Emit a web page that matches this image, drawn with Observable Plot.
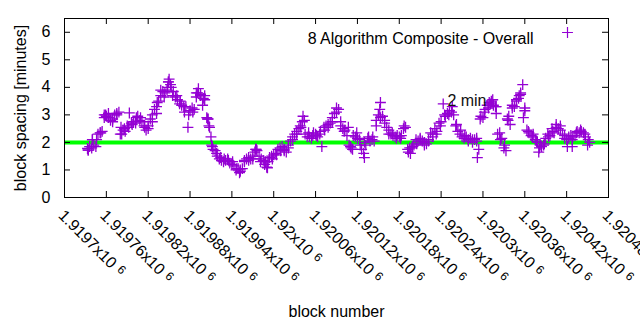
<!DOCTYPE html>
<html>
<head>
<meta charset="utf-8">
<script src="https://cdn.jsdelivr.net/npm/d3@7"></script>
<script src="https://cdn.jsdelivr.net/npm/@observablehq/plot@0.6"></script>
<style>
  html, body { margin: 0; padding: 0; background: #fff; }
  #chart { width: 640px; height: 330px; }
</style>
</head>
<body>
<div id="chart"></div>
<script>
// ---- data ----
const blocks = [
  1919733,1919736,1919739,1919742,1919745,1919748,1919751,1919754,1919757,1919760,
  1919763,1919766,1919769,1919772,1919775,1919778,1919781,1919784,1919787,1919790,
  1919793,1919796,1919799,1919802,1919805,1919808,1919811,1919814,1919817,1919820,
  1919823,1919826,1919829,1919832,1919835,1919838,1919841,1919844,1919847,1919850,
  1919853,1919856,1919859,1919862,1919865,1919868,1919871,1919874,1919877,1919880,
  1919883,1919886,1919889,1919892,1919895,1919898,1919901,1919904,1919907,1919910,
  1919913,1919916,1919919,1919922,1919925,1919928,1919931,1919934,1919937,1919940,
  1919943,1919946,1919949,1919952,1919955,1919958,1919961,1919964,1919967,1919970,
  1919973,1919976,1919979,1919982,1919985,1919988,1919991,1919994,1919997,1920000,
  1920003,1920006,1920009,1920012,1920015,1920018,1920021,1920024,1920027,1920030,
  1920033,1920036,1920039,1920042,1920045,1920048,1920051,1920054,1920057,1920060,
  1920063,1920066,1920069,1920072,1920075,1920078,1920081,1920084,1920087,1920090,
  1920093,1920096,1920099,1920102,1920105,1920108,1920111,1920114,1920117,1920120,
  1920123,1920126,1920129,1920132,1920135,1920138,1920141,1920144,1920147,1920150,
  1920153,1920156,1920159,1920162,1920165,1920168,1920171,1920174,1920177,1920180,
  1920183,1920186,1920189,1920192,1920195,1920198,1920201,1920204,1920207,1920210,
  1920213,1920216,1920219,1920222,1920225,1920228,1920231,1920234,1920237,1920240,
  1920243,1920246,1920249,1920252,1920255,1920258,1920261,1920264,1920267,1920270,
  1920273,1920276,1920279,1920282,1920285,1920288,1920291,1920294,1920297,1920300,
  1920303,1920306,1920309,1920312,1920315,1920318,1920321,1920324,1920327,1920330,
  1920333,1920336,1920339,1920342,1920345,1920348,1920351,1920354,1920357,1920360,
  1920363,1920366,1920369,1920372,1920375,1920378,1920381,1920384,1920387,1920390,
  1920393,1920396,1920399,1920402,1920405,1920408,1920411,1920414,1920417,1920420,
  1920423,1920426,1920429,1920432,1920435,1920438,1920441,1920444,1920447,1920450,
  1920453,
  // scattered extra points
  1919734,1919740,1919759,1919782,1919833,1919848,1919849,1919852,1919891,1919899,
  1919905,1919908,1919911,1919951,1919974,1919990,1920041,1920110,1920130,1920152,
  1920196,1920292,1920311,1920319,1920335,1920352,1920358,1920380,1920421,1920428
];
const spacing = [
  1.78,1.85,1.8,1.9,1.85,2.3,2.35,2.4,2.9,2.95,
  3.05,2.8,2.85,3.0,3.05,3.1,2.55,2.45,2.4,2.6,
  3.07,2.7,2.75,2.7,2.95,2.8,2.75,2.6,2.45,2.6,
  2.85,3.0,3.2,3.3,3.5,3.9,3.85,3.8,3.9,4.3,
  4.0,3.85,3.65,3.55,3.4,3.35,3.3,3.3,2.55,3.15,
  3.25,3.2,3.65,3.95,3.75,3.35,3.7,2.9,2.6,2.2,
  1.75,1.7,1.5,1.4,1.35,1.3,1.35,1.4,1.25,1.2,
  1.15,1.0,1.05,0.95,1.05,1.35,1.4,1.35,1.4,1.4,
  1.65,1.7,1.5,1.4,1.35,1.3,1.08,1.45,1.5,1.55,
  1.6,1.75,1.8,1.85,1.7,1.65,1.8,2.05,2.2,2.3,
  2.4,2.5,2.55,2.95,2.3,2.2,2.2,2.15,2.35,2.3,
  2.2,2.3,1.85,2.55,2.6,2.65,2.7,2.75,3.05,3.25,
  3.2,2.6,2.5,2.45,2.25,1.9,1.8,2.25,2.2,2.15,
  2.1,1.75,1.6,1.9,2.15,2.05,2.1,2.05,2.8,3.0,
  3.45,2.95,2.8,2.55,2.3,2.3,2.25,2.2,2.25,2.2,
  2.25,2.5,2.55,1.75,1.8,1.8,1.9,2.1,2.05,2.1,
  2.05,2.0,1.95,2.1,2.35,2.2,2.5,2.4,2.7,2.75,
  3.4,2.95,3.05,3.15,3.1,3.0,2.6,2.4,2.3,2.2,
  2.15,2.2,2.1,2.15,2.0,2.1,2.15,1.75,2.95,2.9,
  3.2,3.35,3.45,3.5,3.35,3.3,2.3,2.35,2.15,1.8,
  1.7,2.8,2.65,3.25,3.3,3.55,3.6,3.8,4.1,3.15,
  2.45,2.35,2.25,2.3,2.1,2.0,1.8,1.85,1.9,2.15,
  2.3,2.25,2.5,2.35,2.65,2.5,2.45,2.3,2.15,2.1,
  2.15,2.25,2.2,2.25,2.4,2.35,2.4,2.35,2.2,1.9,
  2.0,
  1.72,2.1,3.0,2.3,3.45,4.0,4.2,4.1,3.8,3.6,
  2.85,2.55,1.9,0.9,1.75,1.1,2.75,1.85,1.45,3.2,
  1.6,1.45,3.4,3.05,2.85,3.7,2.9,1.65,1.85,1.85
];
// second pass of readings through the thick parts of the cloud
const blocksB = [
  1919734,1919740,1919746,1919752,1919757,1919763,1919769,1919775,1919780,1919786,
  1919792,1919797,1919803,1919809,1919815,1919820,1919826,1919832,1919838,1919843,
  1919849,1919855,1919861,1919866,1919872,1919878,1919884,1919889,1919895,1919901,
  1919906,1919912,1919918,1919924,1919929,1919935,1919941,1919947,1919952,1919958,
  1919964,1919970,1919975,1919981,1919987,1919992,1919998,1920004,1920010,1920015,
  1920021,1920027,1920033,1920038,1920044,1920050,1920056,1920061,1920067,1920073,
  1920078,1920084,1920090,1920096,1920101,1920107,1920113,1920119,1920124,1920130,
  1920136,1920142,1920147,1920153,1920159,1920165,1920170,1920176,1920182,1920187,
  1920193,1920199,1920205,1920210,1920216,1920222,1920228,1920233,1920239,1920245,
  1920251,1920256,1920262,1920268,1920274,1920279,1920285,1920291,1920296,1920302,
  1920308,1920314,1920319,1920325,1920331,1920337,1920342,1920348,1920354,1920360,
  1920365,1920371,1920377,1920382,1920388,1920394,1920400,1920405,1920411,1920417,
  1920423,1920428,1920434,1920440,1920446,1920451
];
const spacingB = [
  1.72,2.1,2.1,2.35,3.0,2.9,2.75,3.0,2.3,2.5,
  2.55,2.65,2.9,2.9,2.55,2.5,2.75,3.05,3.7,3.65,
  4.2,3.7,3.7,3.5,3.1,3.0,3.1,3.8,3.7,3.55,
  2.85,1.85,1.6,1.45,1.4,1.35,1.3,1.05,1.0,1.3,
  1.45,1.5,1.75,1.3,1.2,1.3,1.4,1.55,1.7,1.75,
  1.9,2.1,2.3,2.6,2.8,2.35,2.25,2.25,2.4,2.45,
  2.55,2.9,3.1,2.75,2.4,2.55,1.75,2.35,1.9,2.0,
  2.2,2.2,2.6,2.9,2.7,2.45,2.35,2.15,2.15,2.6,
  1.65,1.85,1.95,2.15,1.9,2.05,2.3,2.3,2.6,3.0,
  3.0,3.3,2.65,2.45,2.25,2.05,2.1,2.05,2.85,3.1,
  3.25,3.55,3.3,2.1,1.9,2.95,3.35,3.5,3.75,3.25,
  2.4,2.2,2.05,1.9,1.95,2.2,2.4,2.55,2.6,2.25,
  2.2,2.1,2.35,2.45,2.3,2.1
];
const target = 2;                       // horizontal reference line [minutes]
const xTicks = [1919700,1919760,1919820,1919880,1919940,1920000,1920060,
                1920120,1920180,1920240,1920300,1920360,1920420,1920480];
const xTickLabels = ["1.9197","1.91976","1.91982","1.91988","1.91994","1.92","1.92006",
                     "1.92012","1.92018","1.92024","1.9203","1.92036","1.92042","1.92048"];
const yTicks = [0,1,2,3,4,5,6];
const legendLabel = ["8 Algorithm Composite - Overall"];
const noteText = ["2 min"];
const noteBlock = [1920249];
const noteValue = [3.5];
const xLabel = ["block number"];
const yLabel = ["block spacing [minutes]"];

// ---- build ----
const points = blocks.map((b, i) => ({block: b, minutes: spacing[i]}))
  .concat(blocksB.map((b, i) => ({block: b, minutes: spacingB[i]})));
const notes = noteText.map((t, i) => ({text: t, block: noteBlock[i], minutes: noteValue[i]}));
const purple = "#9400d3";
const fw = 640 - 64 - 32, fh = 330 - 18 - 133, tl = 6;

const svg = Plot.plot({
  width: 640, height: 330,
  marginLeft: 64, marginRight: 32, marginTop: 18, marginBottom: 133,
  style: {fontFamily: "'Liberation Sans', Arial, sans-serif", fontSize: "16px", color: "#000", background: "#fff"},
  x: {domain: [1919700, 1920480], axis: null},
  y: {domain: [0, 6.5]},
  marks: [
    Plot.axisY({ticks: yTicks, tickSize: 0, tickPadding: 14, label: null, tickFormat: d => String(d)}),
    Plot.ruleY([target], {stroke: "#00ff00", strokeWidth: 4}),
    Plot.dot(points, {x: "block", y: "minutes", symbol: "plus", r: 3.6, stroke: purple, strokeWidth: 1.3}),
    Plot.text(notes, {x: "block", y: "minutes", text: "text", textAnchor: "start", fill: "#111"}),
    // inward ticks (mirrored, gnuplot style)
    Plot.tickX(xTicks, {x: d => d, insetTop: fh - tl, stroke: "#000"}),
    Plot.tickX(xTicks, {x: d => d, insetBottom: fh - tl, stroke: "#000"}),
    Plot.tickY(yTicks, {y: d => d, insetRight: fw - tl, stroke: "#000"}),
    Plot.tickY(yTicks, {y: d => d, insetLeft: fw - tl, stroke: "#000"}),
    Plot.frame({stroke: "#000", strokeWidth: 1}),
    // rotated x tick labels
    Plot.text(xTicks, {x: d => d, text: (d, i) => xTickLabels[i] + "x10", frameAnchor: "bottom",
      rotate: 45, textAnchor: "start", lineAnchor: "top", dx: 1, dy: 11, fill: "#000"}),
    // legend
    Plot.text(legendLabel, {frameAnchor: "top-right", text: d => d, textAnchor: "end", dx: -75, dy: 14, fill: "#000"}),
    Plot.dot([0], {frameAnchor: "top-right", dx: -41, dy: 14, symbol: "plus", r: 3.6, stroke: purple, strokeWidth: 1.2}),
    // axis titles
    Plot.text(yLabel, {frameAnchor: "left", text: d => d, rotate: -90, textAnchor: "middle", dx: -44, fill: "#000"}),
    Plot.text(xLabel, {frameAnchor: "bottom", text: d => d, textAnchor: "middle", dy: 119, fill: "#000"})
  ]
});

// superscript exponent on the x tick labels
svg.querySelectorAll("text").forEach(t => {
  if (t.textContent.endsWith("x10")) {
    const s = document.createElementNS("http://www.w3.org/2000/svg", "tspan");
    s.textContent = "6";
    s.setAttribute("dx", "5");
    s.setAttribute("dy", "-0.3em");
    s.setAttribute("font-size", "12");
    t.appendChild(s);
  }
});

document.getElementById("chart").appendChild(svg);
</script>
</body>
</html>
